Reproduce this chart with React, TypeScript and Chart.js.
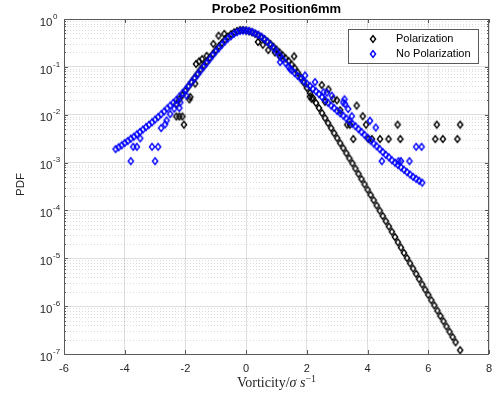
import { useEffect, useRef } from "react";
import { Chart, registerables } from "chart.js";

Chart.register(...registerables);

const TITLE = "Probe2 Position6mm";
const X_LABEL = "Vorticity/";
const Y_LABEL = "PDF";
const seriesNames = ["Polarization", "No Polarization"];
const seriesColors = ["#000000", "#0000ff"];
const xTicks = [-6, -4, -2, 0, 2, 4, 6, 8];
const yTickExps = [0, -1, -2, -3, -4, -5, -6, -7];

// Polarization (black) — main chain of bins
const polX = [
  -2.3, -2.2, -2.1, -2.0, -1.9, -1.8, -1.7, -1.6, -1.5, -1.4, -1.3, -1.2, -1.1, -1.0, -0.9, -0.8, -0.7, -0.6, -0.5, -0.4, -0.3, -0.2, -0.1,
  0.0, 0.1, 0.2, 0.3, 0.4, 0.5, 0.6, 0.7, 0.8, 0.9,
  1.0, 1.1, 1.2, 1.3, 1.4, 1.5, 1.6, 1.7, 1.8, 1.9,
  2.0, 2.1, 2.2, 2.3, 2.4, 2.5, 2.6, 2.7, 2.8, 2.9,
  3.0, 3.1, 3.2, 3.3, 3.4, 3.5, 3.6, 3.7, 3.8, 3.9,
  4.0, 4.1, 4.2, 4.3, 4.4, 4.5, 4.6, 4.7, 4.8, 4.9,
  5.0, 5.1, 5.2, 5.3, 5.4, 5.5, 5.6, 5.7, 5.8, 5.9,
  6.0, 6.1, 6.2, 6.3, 6.4, 6.5, 6.6, 6.7, 6.8, 6.9,
  7.05,
];
const polY = [
  0.0166, 0.0209, 0.0257, 0.0316, 0.0389, 0.0479, 0.0589, 0.0724, 0.0891, 0.107, 0.129, 0.155, 0.186, 0.224, 0.269, 0.316, 0.372, 0.427, 0.479, 0.525, 0.562, 0.589, 0.589,
  0.575, 0.55, 0.525, 0.49, 0.457, 0.417, 0.38, 0.339, 0.302, 0.263,
  0.229, 0.2, 0.174, 0.151, 0.132, 0.112, 0.0933, 0.0759, 0.0603, 0.0468,
  0.0363, 0.0285, 0.0224, 0.0176, 0.0138, 0.0108, 0.00851, 0.00668, 0.00525, 0.00412,
  0.00324, 0.00254, 0.002, 0.00157, 0.00123, 9.66e-4, 7.5e-4, 5.82e-4, 4.52e-4, 3.51e-4,
  2.72e-4, 2.11e-4, 1.64e-4, 1.27e-4, 9.89e-5, 7.67e-5, 5.96e-5, 4.62e-5, 3.59e-5, 2.79e-5,
  2.16e-5, 1.68e-5, 1.3e-5, 1.01e-5, 7.85e-6, 6.1e-6, 4.73e-6, 3.67e-6, 2.85e-6, 2.21e-6,
  1.72e-6, 1.33e-6, 1.04e-6, 8.04e-7, 6.24e-7, 4.84e-7, 3.76e-7, 2.92e-7, 2.26e-7, 1.76e-7,
  1.2e-7,
];
// Polarization — sparse / noisy bins
const polOutX = [
  -2.3, -2.2, -2.1, -2.05, -1.87, -1.84, -1.68, -1.65, -1.55, -1.45, -1.3, -1.08, -0.91, -0.72,
  0.39, 0.55, 0.73, 0.95, 1.12, 1.58,
  2.1, 2.16, 2.49, 2.6, 2.71, 2.87, 2.99, 3.1, 3.33, 3.42,
  3.53, 3.64, 3.84, 3.95, 4.03, 4.14, 4.41, 4.69, 4.99, 5.08,
  6.23, 6.28, 6.48, 6.96, 7.05,
];
const polOutY = [
  0.0092, 0.0092, 0.0092, 0.0062, 0.0209, 0.0234, 0.0447, 0.115, 0.13, 0.145, 0.17, 0.302, 0.447, 0.49,
  0.331, 0.29, 0.224, 0.2, 0.162, 0.166,
  0.024, 0.0214, 0.0417, 0.0186, 0.0339, 0.0214, 0.02, 0.0124, 0.0062, 0.0062,
  0.0031, 0.0155, 0.0093, 0.0062, 0.0031, 0.0031, 0.0031, 0.0031, 0.0062, 0.0031,
  0.0031, 0.0062, 0.0031, 0.0031, 0.0062,
];

// No Polarization (blue) — main chain of bins
const nopX = [
  -4.3, -4.2, -4.1, -4.0, -3.9, -3.8, -3.7, -3.6, -3.5, -3.4,
  -3.3, -3.2, -3.1, -3.0, -2.9, -2.8, -2.7, -2.6, -2.5, -2.4,
  -2.3, -2.2, -2.1, -2.0, -1.9, -1.8, -1.7, -1.6, -1.5, -1.4,
  -1.3, -1.2, -1.1, -1.0, -0.9, -0.8, -0.7, -0.6, -0.5, -0.4,
  -0.3, -0.2, -0.1, 0.0, 0.1, 0.2, 0.3, 0.4, 0.5, 0.6,
  0.7, 0.8, 0.9, 1.0, 1.1, 1.2, 1.3, 1.4, 1.5, 1.6,
  1.7, 1.8, 1.9, 2.0, 2.1, 2.2, 2.3, 2.4, 2.5, 2.6,
  2.7, 2.8, 2.9, 3.0, 3.1, 3.2, 3.3, 3.4, 3.5, 3.6,
  3.7, 3.8, 3.9, 4.0, 4.1, 4.2, 4.3, 4.4, 4.5, 4.6,
  4.7, 4.8, 4.9, 5.0, 5.1, 5.2, 5.3, 5.4, 5.5, 5.6,
  5.7, 5.8,
];
const nopY = [
  0.00191, 0.00209, 0.00229, 0.00257, 0.00282, 0.00316, 0.00347, 0.00389, 0.00437, 0.0049,
  0.0055, 0.00617, 0.00692, 0.00794, 0.00891, 0.0102, 0.0117, 0.0135, 0.0155, 0.0178,
  0.0204, 0.024, 0.0282, 0.0331, 0.0398, 0.0479, 0.0575, 0.0692, 0.0832, 0.1,
  0.12, 0.145, 0.174, 0.209, 0.245, 0.288, 0.339, 0.389, 0.437, 0.49,
  0.531, 0.562, 0.575, 0.575, 0.562, 0.537, 0.501, 0.468, 0.427, 0.38,
  0.331, 0.288, 0.245, 0.209, 0.174, 0.145, 0.12, 0.1, 0.0851, 0.0741,
  0.0646, 0.0562, 0.0501, 0.0447, 0.0398, 0.0347, 0.0309, 0.0269, 0.0234, 0.0204,
  0.0178, 0.0155, 0.0138, 0.012, 0.0107, 0.00955, 0.00832, 0.00741, 0.00646, 0.00575,
  0.00501, 0.00437, 0.0038, 0.00331, 0.00288, 0.00251, 0.00219, 0.00191, 0.00166, 0.00145,
  0.00129, 0.00112, 0.001, 8.91e-4, 7.94e-4, 7.08e-4, 6.31e-4, 5.62e-4, 5.01e-4, 4.57e-4,
  4.17e-4, 3.8e-4,
];
// No Polarization — sparse / noisy bins
const nopOutX = [
  -3.8, -3.0, -3.72, -3.6, -3.1, -2.9, -3.49, -2.8, -2.67, -2.62, -2.5, -2.37, -2.2, -2.17, -1.97,
  1.12, 1.45,
  1.94, 2.27, 2.55, 2.66, 2.82, 3.2, 3.24, 3.26, 3.36, 3.48,
  4.08, 4.27, 4.47, 5.02, 5.1, 5.38, 5.6, 5.78,
];
const nopOutY = [
  0.00107, 0.00107, 0.00214, 0.00214, 0.00214, 0.00214, 0.00321, 0.00525, 0.0063, 0.0076, 0.0103, 0.0134, 0.0138, 0.018, 0.0251,
  0.126, 0.091,
  0.066, 0.048, 0.0295, 0.029, 0.025, 0.018, 0.021, 0.0166, 0.0132, 0.0093,
  0.0075, 0.0054, 0.00107, 0.00107, 0.00107, 0.00107, 0.00214, 0.00214,
];

function pairs(xs: number[], ys: number[]) {
  return xs.map((x, i) => ({ x, y: ys[i] }));
}

function makeDiamond(color: string) {
  const c = document.createElement("canvas");
  c.width = 10;
  c.height = 10;
  const g = c.getContext("2d")!;
  g.strokeStyle = color;
  g.lineWidth = 1.45;
  g.beginPath();
  g.moveTo(5, 1.6);
  g.lineTo(7.6, 5);
  g.lineTo(5, 8.4);
  g.lineTo(2.4, 5);
  g.closePath();
  g.stroke();
  return c;
}

const SANS = '"Liberation Sans", Arial, Helvetica, sans-serif';
const SERIF = '"Liberation Serif", "DejaVu Serif", serif';
const AX = "#262626";

export default function App() {
  const ref = useRef<HTMLCanvasElement | null>(null);

  useEffect(() => {
    const canvas = ref.current;
    if (!canvas) return;
    const markers = seriesColors.map((c) => makeDiamond(c));

    const decor = {
      id: "decor",
      beforeDraw(chart: any) {
        const ctx = chart.ctx;
        ctx.save();
        ctx.fillStyle = "#ffffff";
        ctx.fillRect(0, 0, chart.width, chart.height);
        ctx.restore();
      },
      beforeDatasetsDraw(chart: any) {
        const ctx = chart.ctx;
        const { left, right } = chart.chartArea;
        const ys = chart.scales.y;
        ctx.save();
        ctx.strokeStyle = "rgba(38,38,38,0.16)";
        ctx.lineWidth = 1;
        ctx.setLineDash([1, 2]);
        for (let e = -7; e < 0; e++) {
          for (let m = 2; m <= 9; m++) {
            const y = Math.round(ys.getPixelForValue(m * Math.pow(10, e))) + 0.5;
            ctx.beginPath();
            ctx.moveTo(left, y);
            ctx.lineTo(right, y);
            ctx.stroke();
          }
        }
        ctx.restore();
      },
      afterDatasetsDraw(chart: any) {
        const ctx = chart.ctx;
        const { left, right, top, bottom } = chart.chartArea;
        const xs = chart.scales.x;
        const ys = chart.scales.y;
        ctx.save();
        // box
        ctx.strokeStyle = "#5a5a5a";
        ctx.lineWidth = 1;
        ctx.setLineDash([]);
        ctx.strokeRect(left + 0.5, top + 0.5, right - left - 1, bottom - top);
        // x ticks
        ctx.beginPath();
        for (const v of xTicks) {
          const x = Math.round(xs.getPixelForValue(v)) + 0.5;
          ctx.moveTo(x, bottom);
          ctx.lineTo(x, bottom - 4);
          ctx.moveTo(x, top);
          ctx.lineTo(x, top + 4);
        }
        // y ticks major and minor
        for (let e = -7; e <= 0; e++) {
          const y = Math.round(ys.getPixelForValue(Math.pow(10, e))) + 0.5;
          ctx.moveTo(left, y);
          ctx.lineTo(left + 4, y);
          ctx.moveTo(right, y);
          ctx.lineTo(right - 4, y);
          if (e < 0) {
            for (let m = 2; m <= 9; m++) {
              const ym = Math.round(ys.getPixelForValue(m * Math.pow(10, e))) + 0.5;
              ctx.moveTo(left, ym);
              ctx.lineTo(left + 2, ym);
              ctx.moveTo(right, ym);
              ctx.lineTo(right - 2, ym);
            }
          }
        }
        ctx.stroke();

        // x tick labels
        ctx.fillStyle = AX;
        ctx.font = `11px ${SANS}`;
        ctx.textAlign = "center";
        ctx.textBaseline = "middle";
        for (const v of xTicks) {
          ctx.fillText(String(v), xs.getPixelForValue(v), 369);
        }
        // y tick labels 10^e
        for (const e of yTickExps) {
          const y = ys.getPixelForValue(Math.pow(10, e));
          ctx.font = `11.5px ${SANS}`;
          ctx.textAlign = "right";
          ctx.fillText("10", 52.5, y + 3.5);
          ctx.font = `8px ${SANS}`;
          ctx.textAlign = "left";
          ctx.fillText(String(e), 53, y - 2.5);
        }
        // y label
        ctx.save();
        ctx.translate(21, (top + bottom) / 2 - 2);
        ctx.rotate(-Math.PI / 2);
        ctx.font = `11.5px ${SANS}`;
        ctx.textAlign = "center";
        ctx.textBaseline = "middle";
        ctx.fillText(Y_LABEL, 0, 0);
        ctx.restore();

        // x label with math parts
        const fs = 14;
        const parts = [
          { t: X_LABEL, f: `${fs}px ${SERIF}`, dy: 0 },
          { t: "\u03c3", f: `italic ${fs}px ${SERIF}`, dy: 0 },
          { t: " ", f: `${fs}px ${SERIF}`, dy: 0 },
          { t: "s", f: `italic ${fs}px ${SERIF}`, dy: 0 },
          { t: "\u22121", f: `${Math.round(fs * 0.7)}px ${SERIF}`, dy: -5.5 },
        ];
        let total = 0;
        const widths: number[] = [];
        for (const p of parts) {
          ctx.font = p.f;
          const w = ctx.measureText(p.t).width;
          widths.push(w);
          total += w;
        }
        let cx = (left + right) / 2 - total / 2;
        ctx.textAlign = "left";
        ctx.textBaseline = "alphabetic";
        parts.forEach((p, i) => {
          ctx.font = p.f;
          ctx.fillText(p.t, cx, 387 + p.dy);
          cx += widths[i];
        });

        // title
        ctx.fillStyle = "#000000";
        ctx.font = `bold 13px ${SANS}`;
        ctx.textAlign = "center";
        ctx.textBaseline = "middle";
        ctx.fillText(TITLE, (left + right) / 2, 9);

        // legend
        const lx = 348.5, ly = 29.5, lw = 130, lh = 34;
        ctx.fillStyle = "#ffffff";
        ctx.fillRect(lx, ly, lw, lh);
        ctx.strokeStyle = "#5a5a5a";
        ctx.strokeRect(lx, ly, lw, lh);
        ctx.font = `11px ${SANS}`;
        ctx.textAlign = "left";
        ctx.textBaseline = "middle";
        ctx.fillStyle = "#000000";
        seriesNames.forEach((name, i) => {
          const yy = 39 + i * 15;
          const m = markers[i];
          ctx.drawImage(m, 373 - m.width / 2, yy - m.height / 2);
          ctx.fillText(name, 396, yy);
        });
        ctx.restore();
      },
    };

    const chart = new Chart(canvas, {
      type: "scatter",
      data: {
        datasets: [
          {
            label: seriesNames[0],
            data: [...pairs(polX, polY), ...pairs(polOutX, polOutY)],
            pointStyle: markers[0] as any,
            pointRadius: 3,
            borderColor: seriesColors[0],
            backgroundColor: "transparent",
            showLine: false,
            order: 1,
          },
          {
            label: seriesNames[1],
            data: [...pairs(nopX, nopY), ...pairs(nopOutX, nopOutY)],
            pointStyle: markers[1] as any,
            pointRadius: 3,
            borderColor: seriesColors[1],
            backgroundColor: "transparent",
            showLine: false,
            order: 0,
          },
        ],
      },
      options: {
        animation: false,
        responsive: false,
        devicePixelRatio: 1,
        events: [],
        layout: { padding: { top: 19, right: 6, left: 0, bottom: 0 } },
        plugins: {
          legend: { display: false },
          tooltip: { enabled: false },
          title: { display: false },
        },
        scales: {
          x: {
            type: "linear",
            min: -6,
            max: 8,
            ticks: { display: false, stepSize: 2 },
            grid: { color: "rgba(38,38,38,0.15)", drawTicks: false },
            border: { display: false },
            afterFit: (s: any) => {
              s.height = 47;
            },
          },
          y: {
            type: "logarithmic",
            min: 1e-7,
            max: 1,
            afterBuildTicks: (s: any) => {
              s.ticks = yTickExps.map((e) => ({ value: Math.pow(10, e) }));
            },
            ticks: { display: false },
            grid: { color: "rgba(38,38,38,0.15)", drawTicks: false },
            border: { display: false },
            afterFit: (s: any) => {
              s.width = 64;
            },
          },
        },
      },
      plugins: [decor],
    } as any);

    return () => chart.destroy();
  }, []);

  return (
    <div style={{ position: "absolute", left: 0, top: 0, width: 495, height: 401, background: "#fff" }}>
      <canvas ref={ref} width={495} height={401} style={{ display: "block", width: 495, height: 401 }} />
    </div>
  );
}
